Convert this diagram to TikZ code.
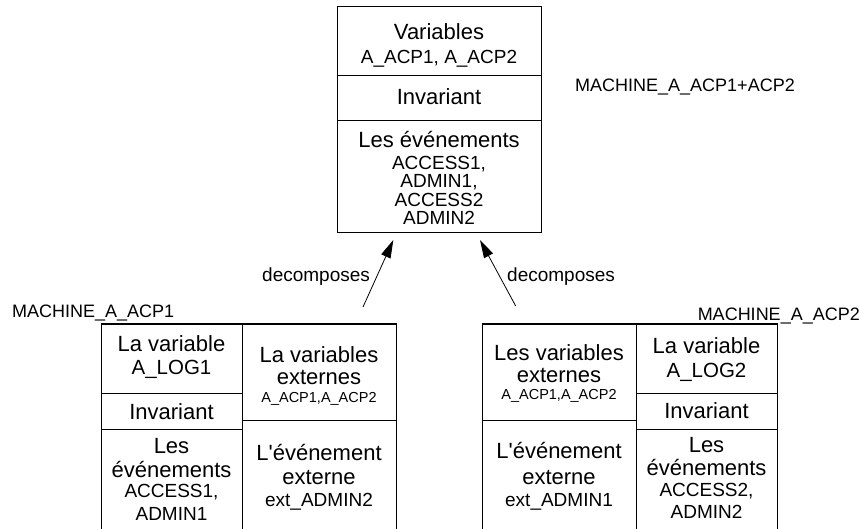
\documentclass[tikz,border=0pt]{standalone}
\usepackage{fontspec}
\setmainfont{Liberation Sans}
\usetikzlibrary{arrows.meta}
\newcommand\fbig{\fontsize{22}{26}\selectfont}
\newcommand\flog{\fontsize{20.5}{24}\selectfont}
\newcommand\fmid{\fontsize{19}{22}\selectfont}
\newcommand\fsml{\fontsize{14.5}{17}\selectfont}
\begin{document}
\begin{tikzpicture}[x=1pt,y=-1pt,
  sec/.style={draw, line width=1pt, inner sep=0pt, outer sep=0pt},
  tbig/.style={anchor=base, inner sep=0pt, font=\fbig},
  tlog/.style={anchor=base, inner sep=0pt, font=\flog},
  tmid/.style={anchor=base, inner sep=0pt, font=\fmid},
  tsml/.style={anchor=base, inner sep=0pt, font=\fsml},
  lbl/.style={anchor=base west, inner sep=0pt, font=\fmid},
  conn/.style={line width=0.8pt, -{Triangle[length=18pt,width=10pt]}}]
\useasboundingbox (0,0) rectangle (862,529);
\clip (0,0) rectangle (862,529);
% top box
\node[sec, minimum width=204pt, minimum height=69pt] (t1) at (439,41.5) {};
\node[sec, minimum width=204pt, minimum height=45pt] (t2) at (439,98.5) {};
\node[sec, minimum width=204pt, minimum height=112pt] (t3) at (439,177) {};
\node[tbig] (tx1) at (439,40) {Variables};
\node[tmid] (tx2) at (439,64) {A\_ACP1, A\_ACP2};
\node[tbig] (tx3) at (439,105) {Invariant};
\node[tbig] (tx4) at (439,148) {Les événements};
\node[tmid] (tx5) at (439,170) {ACCESS1,};
\node[tmid] (tx6) at (439,188) {ADMIN1,};
\node[tmid] (tx7) at (439,207) {ACCESS2};
\node[tmid] (tx8) at (439,225) {ADMIN2};
% box A
\node[sec, minimum width=141pt, minimum height=69pt] (a1) at (171.5,358.5) {};
\node[sec, minimum width=141pt, minimum height=36pt] (a2) at (171.5,411) {};
\node[sec, minimum width=141pt, minimum height=111pt] (a3) at (171.5,484.5) {};
\node[tbig] (ax1) at (171.5,352) {La variable};
\node[tlog] (ax2) at (171.5,374) {A\_LOG1};
\node[tbig] (ax3) at (171.5,419) {Invariant};
\node[tbig] (ax4) at (171.5,453) {Les};
\node[tbig] (ax5) at (171.5,477) {événements};
\node[tmid] (ax6) at (171.5,497) {ACCESS1,};
\node[tmid] (ax7) at (171.5,520) {ADMIN1};
% box B
\node[sec, minimum width=154pt, minimum height=96pt] (b1) at (319,372) {};
\node[sec, minimum width=154pt, minimum height=120pt] (b2) at (319,480) {};
\node[tbig] (bx1) at (319,362) {La variables};
\node[tbig] (bx2) at (319,384) {externes};
\node[tsml] (bx3) at (319,402) {A\_ACP1,A\_ACP2};
\node[tbig] (bx4) at (319,460) {L\textquotesingle événement};
\node[tbig] (bx5) at (319,484) {externe};
\node[tmid] (bx6) at (319,506) {ext\_ADMIN2};
% box C
\node[sec, minimum width=154pt, minimum height=96pt] (c1) at (559,372) {};
\node[sec, minimum width=154pt, minimum height=120pt] (c2) at (559,480) {};
\node[tbig] (cx1) at (559,360) {Les variables};
\node[tbig] (cx2) at (559,382) {externes};
\node[tsml] (cx3) at (559,399) {A\_ACP1,A\_ACP2};
\node[tbig] (cx4) at (559,458) {L\textquotesingle événement};
\node[tbig] (cx5) at (559,484) {externe};
\node[tmid] (cx6) at (559,506) {ext\_ADMIN1};
% box D
\node[sec, minimum width=141pt, minimum height=69pt] (d1) at (706.5,358.5) {};
\node[sec, minimum width=141pt, minimum height=36pt] (d2) at (706.5,411) {};
\node[sec, minimum width=141pt, minimum height=111pt] (d3) at (706.5,484.5) {};
\node[tbig] (dx1) at (706.5,353) {La variable};
\node[tlog] (dx2) at (706.5,377) {A\_LOG2};
\node[tbig] (dx3) at (706.5,418) {Invariant};
\node[tbig] (dx4) at (706.5,452) {Les};
\node[tbig] (dx5) at (706.5,475) {événements};
\node[tmid] (dx6) at (706.5,496) {ACCESS2,};
\node[tmid] (dx7) at (706.5,518) {ADMIN2};
% labels
\node[lbl, font=\fontsize{18}{21}\selectfont] (m0) at (575,92) {MACHINE\_A\_ACP1+ACP2};
\node[lbl, font=\fontsize{18}{21}\selectfont] (m1) at (12,317) {MACHINE\_A\_ACP1};
\node[anchor=base east, inner sep=0pt, font=\fontsize{18}{21}\selectfont] (m2) at (860,320) {MACHINE\_A\_ACP2};
\node[lbl] (dl) at (262,282) {decomposes};
\node[lbl] (dr) at (507,282) {decomposes};
% connectors
\coordinate (ls) at (363,307);
\coordinate (le) at (393.3,240);
\coordinate (rs) at (515.7,306);
\coordinate (re) at (480,240);
\draw[conn] (ls) -- (le);
\draw[conn] (rs) -- (re);
\end{tikzpicture}
\end{document}
